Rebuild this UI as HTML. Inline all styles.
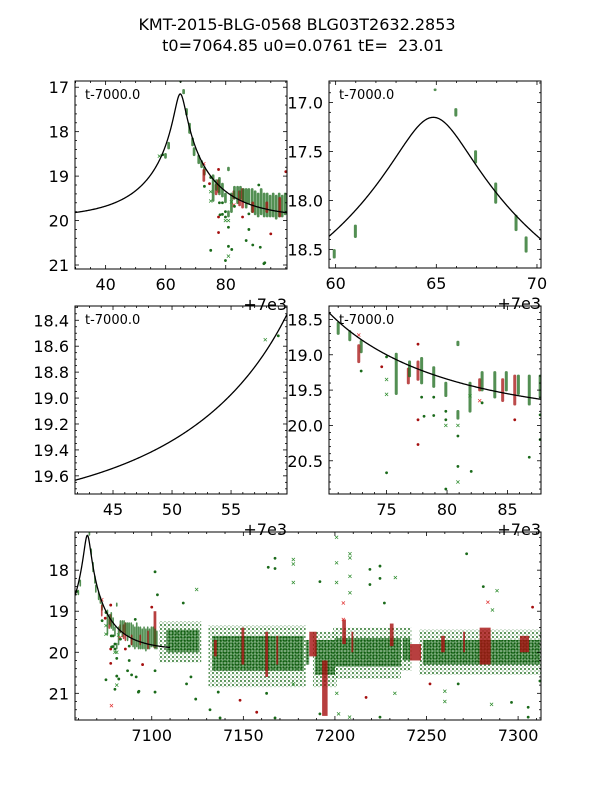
<!DOCTYPE html>
<html><head><meta charset="utf-8">
<style>
html,body{margin:0;padding:0;background:#fff;}
svg{display:block;font-family:"DejaVu Sans","Liberation Sans",sans-serif;}
</style></head>
<body>
<svg id="fig" width="600" height="800" viewBox="0 0 600 800" xmlns="http://www.w3.org/2000/svg">
<defs>
<pattern id="dots" width="4" height="4" patternUnits="userSpaceOnUse">
<circle cx="1" cy="1" r="1.1" fill="#1a6a1a"/>
<circle cx="3" cy="3" r="0.9" fill="#1a6a1a" opacity="0.6"/>
</pattern>
<pattern id="dots2" width="3" height="3" patternUnits="userSpaceOnUse">
<rect width="3" height="3" fill="#2a7a2a" opacity="0.55"/>
<circle cx="1.5" cy="1.5" r="1.1" fill="#0f5a0f"/>
</pattern>
</defs>
<rect width="600" height="800" fill="#fff"/>
<text x="297" y="30" font-size="16" text-anchor="middle">KMT-2015-BLG-0568 BLG03T2632.2853</text>
<text x="303" y="51" font-size="16" text-anchor="middle" xml:space="preserve" style="white-space:pre">t0=7064.85 u0=0.0761 tE=  23.01</text>
</svg>
<script>
// Model parameters (from title)
const modelT0 = 64.85, modelU0 = 0.0761, modelTE = 23.01, modelBase = 19.95;

// Nightly observation columns (t-7000, mag range, colour)
const nightT  = [59.93,60.98,64.94,65.97,66.95,67.95,68.96,69.46,71.0,71.96,72.9,72.7,75.8,76.8,76.9,77.6,77.9,78.9,79.9,80.9,80.9,81.9,82.7,82.9,83.95,84.6,84.9,85.6,85.9,86.8,87.7,88.8,89.8,90.8,91.8,92.8,93.8,94.8,95.8,96.8,97.8,98.8,99.8,89.0,93.7,98.0,100.8,101.8,102.8];
const nightLo = [18.51,18.26,16.87,17.07,17.5,17.83,18.16,18.38,18.55,18.67,18.81,18.87,18.99,19.2,19.1,19.1,19.05,19.18,19.4,18.82,19.8,19.4,19.35,19.25,19.25,19.35,19.25,19.3,19.3,19.3,19.3,19.3,19.35,19.4,19.3,19.4,19.4,19.45,19.4,19.45,19.4,19.45,19.4,19.6,19.6,19.5,19.4,19.45,19.5];
const nightHi = [18.58,18.37,16.87,17.13,17.61,18.02,18.3,18.52,18.7,18.79,18.96,19.1,19.55,19.4,19.3,19.35,19.4,19.45,19.58,18.86,19.9,19.8,19.5,19.5,19.6,19.65,19.5,19.7,19.55,19.7,19.6,19.8,19.85,19.9,19.85,19.9,19.9,19.9,19.9,19.95,19.9,19.9,19.85,19.8,19.8,19.9,19.85,19.9,19.9];
const nightC  = ['g','g','g','g','g','g','g','g','g','g','g','r','g','r','g','r','g','g','g','g','g','g','r','g','g','r','g','r','g','g','g','g','g','g','g','g','g','g','g','g','g','g','g','r','r','r','g','g','g'];

// Season blocks (dense data, t-7000); 'h' = sparse halo
const seasonT0 = [108,133,184,189,200,237,248, 104,131,188,199,236,246];
const seasonT1 = [126,183,186,200,236,241,312, 127,184,201,236,242,313];
const seasonLo = [19.45,19.6,19.7,19.7,19.65,19.65,19.7, 19.25,19.35,19.5,19.4,19.4,19.45];
const seasonHi = [20.0,20.45,20.3,20.55,20.35,20.2,20.3, 20.25,20.85,20.85,20.65,20.45,20.55];
const seasonC  = ['g','g','g','g','g','g','g','h','h','h','h','h','h'];

// Red (second observatory) columns
const redT0 = [101,134,149,162,168,186,193,204,209,230,241,258,270,279,301];
const redT1 = [102.5,135.5,150.5,163.5,169,190,196,206,210,232,247,260,271,285,306];
const redLo = [19.0,19.7,19.4,19.5,19.6,19.5,20.2,19.2,19.5,19.3,19.8,19.6,19.5,19.4,19.6];
const redHi = [19.9,20.1,20.3,20.6,20.3,20.1,21.55,19.8,20.0,19.85,20.2,20.0,20.0,20.3,20.0];

// Individual points
const ptT = [57.9,59.0,72.9,72.7,74.6,75,75,75,75,77.6,77.6,77.6,77.9,78.9,78.9,79.9,79.9,79.9,79.9,80.9,80.9,80.9,80.9,81.9,82.7,82.9,85.6,86.8,87.7,87.7,91,93,89,95,91.5,
 101.8,103.1,117.2,124.5,163.6,167.3,167.3,177.3,177.3,177.3,191.8,200.9,200.9,200.9,208.2,208.2,208.2,208.2,204.6,204.6,219.1,219.1,224.6,224.6,227,233,271.9,281,288.5,283.5,286,307.9,
 78.1,82,78,92.7,101.8,101.8,100,119,121.4,124,131.8,137.3,136.3,148.2,157.3,162.7,167.3,177.3,191.8,201,202,208,217,224.6,232.7,251.9,260,260,267.3,285.5,296.4,305.5,305.5,311.9];
const ptM = [18.55,18.52,19.23,18.72,19.17,19.03,19.35,19.56,20.67,18.85,19.92,20.27,19.6,19.6,19.86,19.8,19.92,20.0,20.9,20.0,20.15,20.58,20.8,19.58,19.65,19.68,19.92,20.45,19.85,20.2,19.2,20.95,20.55,20.3,20.6,
 18.04,18.6,18.8,18.47,17.93,17.71,17.96,17.74,17.85,18.3,18.28,17.2,17.82,18.3,17.6,17.7,18.15,18.55,18.8,19.2,17.98,18.35,17.9,18.2,18.8,18.18,17.6,18.4,18.5,18.78,18.97,18.9,
 19.87,20.65,21.3,20.97,20.45,20.97,18.9,20.77,20.6,21.14,21.4,21.6,20.97,21.17,21.46,21.0,21.6,20.77,21.5,21.0,21.5,21.58,21.1,21.58,21.0,20.77,20.95,21.2,20.77,21.27,21.22,21.34,21.58,20.7];
const ptC = ['g','g','g','r','r','g','g','g','g','r','r','r','g','g','g','g','g','g','g','g','g','g','g','g','r','g','r','g','g','g','g','g','g','r','g',
 'g','g','g','g','g','g','g','g','g','g','g','g','g','g','g','g','g','g','r','r','g','g','g','g','g','g','g','g','g','r','g','r',
 'g','g','r','g','g','g','r','g','g','g','g','g','g','r','r','g','g','g','g','g','g','g','r','g','g','r','g','g','g','g','g','g','g','g'];
const ptK = ['x','o','o','x','o','o','x','x','o','o','o','o','o','o','o','o','o','x','o','x','o','o','x','x','x','o','o','o','o','o','o','o','o','o','o',
 'o','o','o','x','o','o','o','x','x','x','o','x','x','x','x','x','x','x','x','x','o','o','o','o','o','x','o','o','x','x','x','o',
 'o','o','x','o','o','o','o','o','o','o','o','o','o','o','o','o','o','x','o','x','x','x','o','o','x','o','x','x','o','x','o','o','o','o'];

const NS = 'http://www.w3.org/2000/svg';
const svg = document.getElementById('fig');
const COL = {g:'#1a6a1a', r:'#a50f0f'};
function mk(tag, attrs, parent){const e=document.createElementNS(NS,tag);for(const k in attrs)e.setAttribute(k,attrs[k]);(parent||svg).appendChild(e);return e;}

const panels = [
 {name:'top-left',L:75,T:81,W:212,H:188,x0:29.8,x1:100.4,y0:16.86,y1:21.09,xt:[40,60,80],xm:5,yt:[17,18,19,20,21],ym:0.2,yd:0,off:true,lab:true,tEnd:999,xAdd:0},
 {name:'top-right',L:329,T:81,W:212,H:187,x0:59.67,x1:70.2,y0:16.78,y1:18.69,xt:[60,65,70],xm:1,yt:[17,17.5,18,18.5],ym:0.1,yd:1,off:true,lab:true,tEnd:999,xAdd:0},
 {name:'middle-left',L:75,T:306,W:212,H:188,x0:41.78,x1:59.74,y0:18.29,y1:19.74,xt:[45,50,55],xm:1,yt:[18.4,18.6,18.8,19.0,19.2,19.4,19.6],ym:0.05,yd:1,off:true,lab:true,tEnd:999,xAdd:0},
 {name:'middle-right',L:329,T:306,W:212,H:188,x0:70.24,x1:87.77,y0:18.31,y1:20.97,xt:[75,80,85],xm:1,yt:[18.5,19.0,19.5,20.0,20.5],ym:0.1,yd:1,off:true,lab:true,tEnd:999,xAdd:0},
 {name:'bottom-full',L:75,T:532,W:466,H:188,x0:58.1,x1:312.5,y0:17.07,y1:21.65,xt:[100,150,200,250,300],xm:10,yt:[18,19,20,21],ym:0.2,yd:0,off:false,lab:false,tEnd:110,xAdd:7000}
];

function model(t){const tau=(t-modelT0)/modelTE;const u=Math.sqrt(modelU0*modelU0+tau*tau);const A=(u*u+2)/(u*Math.sqrt(u*u+4));return modelBase-2.5*Math.log10(A);}

panels.forEach((p,i)=>{
  const g = mk('g',{});
  
  
  const sc=p.W/(p.x1-p.x0);
  const sx=t=>p.L+(t-p.x0)*sc;
  const sy=m=>p.T+(m-p.y0)/(p.y1-p.y0)*p.H;
  const cid='clip'+i;
  const cp=mk('clipPath',{id:cid},g);mk('rect',{x:p.L,y:p.T,width:p.W,height:p.H},cp);
  const data=mk('g',{'clip-path':'url(#'+cid+')'},g);
  
  
  // halos first, then cores
  ['h','g'].forEach(kind=>{
    for(let k=0;k<seasonT0.length;k++){
      if(seasonC[k]!==kind) continue;
      const x0=sx(seasonT0[k]),x1=sx(seasonT1[k]);
      const r=mk('rect',{x:x0,y:sy(seasonLo[k]),width:Math.max(1,x1-x0),height:sy(seasonHi[k])-sy(seasonLo[k]),fill:kind==='h'?'url(#dots)':'url(#dots2)',opacity:kind==='h'?0.75:1},data);
      
      
    }
  });
  // red columns
  for(let k=0;k<redT0.length;k++){
    const x0=sx(redT0[k]),x1=sx(redT1[k]);
    const r=mk('rect',{x:x0,y:sy(redLo[k]),width:Math.max(1.5,x1-x0),height:sy(redHi[k])-sy(redLo[k]),fill:COL.r,opacity:0.8},data);
    
    
  }
  // nights
  const w=Math.min(3,Math.max(1.6,0.9*sc));
  for(let k=0;k<nightT.length;k++){
    const x=sx(nightT[k]);
    const y0=sy(nightLo[k])-1.3,y1=sy(nightHi[k])+1.3;
    const r=mk('rect',{x:x-w/2,y:y0,width:w,height:Math.max(2.6,y1-y0),rx:1.2,fill:COL[nightC[k]],opacity:0.75},data);
    
    
  }
  // points
  for(let k=0;k<ptT.length;k++){
    const x=sx(ptT[k]),y=sy(ptM[k]);
    let e;
    if(ptK[k]==='o'){e=mk('circle',{cx:x,cy:y,r:1.4,fill:COL[ptC[k]]},data);}
    else{e=mk('path',{d:`M${x-1.6},${y-1.6}L${x+1.6},${y+1.6}M${x-1.6},${y+1.6}L${x+1.6},${y-1.6}`,stroke:ptC[k]==='r'?'#e03030':'#2a8a2a','stroke-width':0.7,fill:'none'},data);}
    
    
  }
  // model
  let d='';const tA=p.x0,tB=Math.min(p.x1,p.tEnd);
  for(let s=0;s<=400;s++){const t=tA+(tB-tA)*s/400;d+=(s?'L':'M')+sx(t).toFixed(2)+','+sy(model(t)).toFixed(2);}
  const ml=mk('path',{d:d,fill:'none',stroke:'#000','stroke-width':1.3},data);
  
  
  // ticks
  const tk=mk('g',{stroke:'#000','stroke-width':0.8},g);
  const xs=Math.ceil(p.x0/p.xm)*p.xm;
  for(let t=xs;t<=p.x1+1e-9;t+=p.xm){const x=sx(t);const major=p.xt.some(v=>Math.abs(v-t)<1e-6);const l=major?4:2;
    mk('line',{x1:x,y1:p.T+p.H,x2:x,y2:p.T+p.H-l},tk);mk('line',{x1:x,y1:p.T,x2:x,y2:p.T+l},tk);}
  const ys=Math.ceil(p.y0/p.ym-1e-9)*p.ym;
  for(let m=ys;m<=p.y1+1e-9;m+=p.ym){const y=sy(m);const major=p.yt.some(v=>Math.abs(v-m)<1e-6);const l=major?4:2;
    mk('line',{x1:p.L,y1:y,x2:p.L+l,y2:y},tk);mk('line',{x1:p.L+p.W,y1:y,x2:p.L+p.W-l,y2:y},tk);}
  const fr=mk('rect',{x:p.L,y:p.T,width:p.W,height:p.H,fill:'none',stroke:'#000','stroke-width':1},g);
  
  
  p.xt.forEach(v=>{const t=mk('text',{x:sx(v),y:p.T+p.H+21,'font-size':16,'text-anchor':'middle'},g);t.textContent=String(v+p.xAdd);
    });
  p.yt.forEach(v=>{const t=mk('text',{x:p.L-6,y:sy(v)+6,'font-size':16,'text-anchor':'end'},g);t.textContent=v.toFixed(p.yd);
    });
  if(p.off){const t=mk('text',{x:p.L+p.W,y:p.T+p.H+41,'font-size':16,'text-anchor':'end'},g);t.textContent='+7e3';
    }
  if(p.lab){const t=mk('text',{x:p.L+10,y:p.T+18,'font-size':13},g);t.textContent='t-7000.0';
    }
});
</script>
</body></html>
